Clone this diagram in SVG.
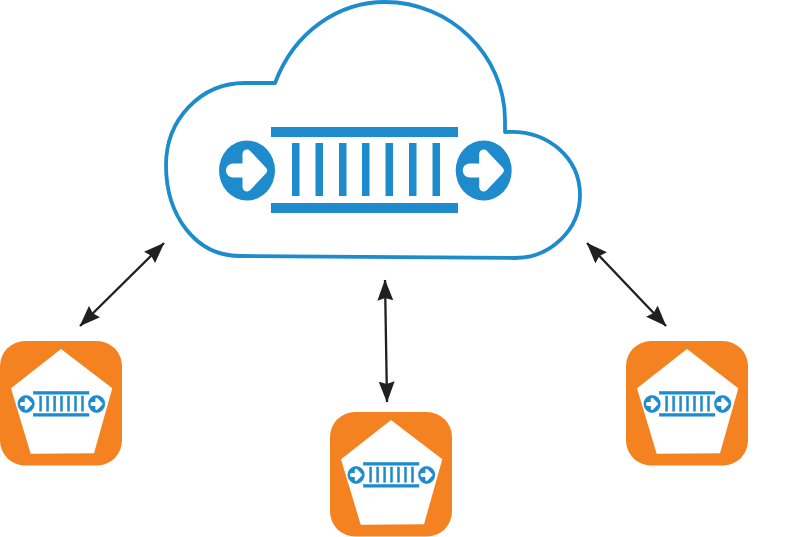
<svg xmlns="http://www.w3.org/2000/svg" width="800" height="537" viewBox="0 0 800 537">
<style>
.blue{fill:#1e8bcd}
.shaft{fill:none;stroke:#fff;stroke-width:14;stroke-linecap:round}
.head{fill:#fff;stroke:#fff;stroke-width:9;stroke-linejoin:round}
.conn{fill:none;stroke:#231f20;stroke-width:2.300;marker-start:url(#ah);marker-end:url(#ah)}
.cloud{fill:#fff;stroke:#1e8bcd;stroke-width:3.800;stroke-linejoin:round}
.tile{fill:#f58220}
</style>
<defs>
<marker id="ah" viewBox="0 0 21 16" refX="20.500" refY="8" markerWidth="21" markerHeight="16" markerUnits="userSpaceOnUse" orient="auto-start-reverse">
<path d="M0 0L21 8L0 16L2.500 8Z" fill="#231f20"/>
</marker>
<g id="queue">
<rect class="blue" x="271" y="127" width="187" height="10"/>
<rect class="blue" x="271" y="203" width="187" height="10"/>
<rect class="blue" x="292" y="143" width="7.500" height="53"/>
<rect class="blue" x="315.500" y="143" width="7.500" height="53"/>
<rect class="blue" x="339" y="143" width="7.500" height="53"/>
<rect class="blue" x="362" y="143" width="7.500" height="53"/>
<rect class="blue" x="385.500" y="143" width="7.500" height="53"/>
<rect class="blue" x="409" y="143" width="7.500" height="53"/>
<rect class="blue" x="432.500" y="143" width="7.500" height="53"/>
<g id="dot">
<ellipse class="blue" cx="247" cy="170.500" rx="28" ry="30"/>
<path class="shaft" d="M233 170.500H252"/>
<path class="head" d="M247 154L262.500 170.500L247 187Z"/>
</g>
<use href="#dot" x="236.700"/>
</g>
<g id="badge">
<rect class="tile" x="0" y="341" width="122" height="124.500" rx="25"/>
<path d="M61 349L112.300 388.300L94 453.300L30.700 453.700L11 388.300Z" fill="#fff"/>
<use href="#queue" transform="translate(-47.500 354.500) scale(0.298 0.29)" stroke="#1e8bcd" stroke-width="1.200"/>
</g>
</defs>
<g id="connectors">
<path class="conn" d="M164 243L80 326"/>
<path class="conn" d="M385 280L387 402"/>
<path class="conn" d="M587 243L666 326"/>
</g>
<g id="cloud-node">
<path class="cloud" d="M275 83C295 30 340 2 385 2C450 2 505 55 505 120L505 132C550 129 580 160 580 195C580 230 550 258 515 258L240 256C195 256 166 215 166 165C166 120 200 83 245 83Z"/>
<use href="#queue"/>
</g>
<g id="node-left"><use href="#badge"/></g>
<g id="node-middle"><use href="#badge" x="330" y="71"/></g>
<g id="node-right"><use href="#badge" x="626"/></g>
</svg>
